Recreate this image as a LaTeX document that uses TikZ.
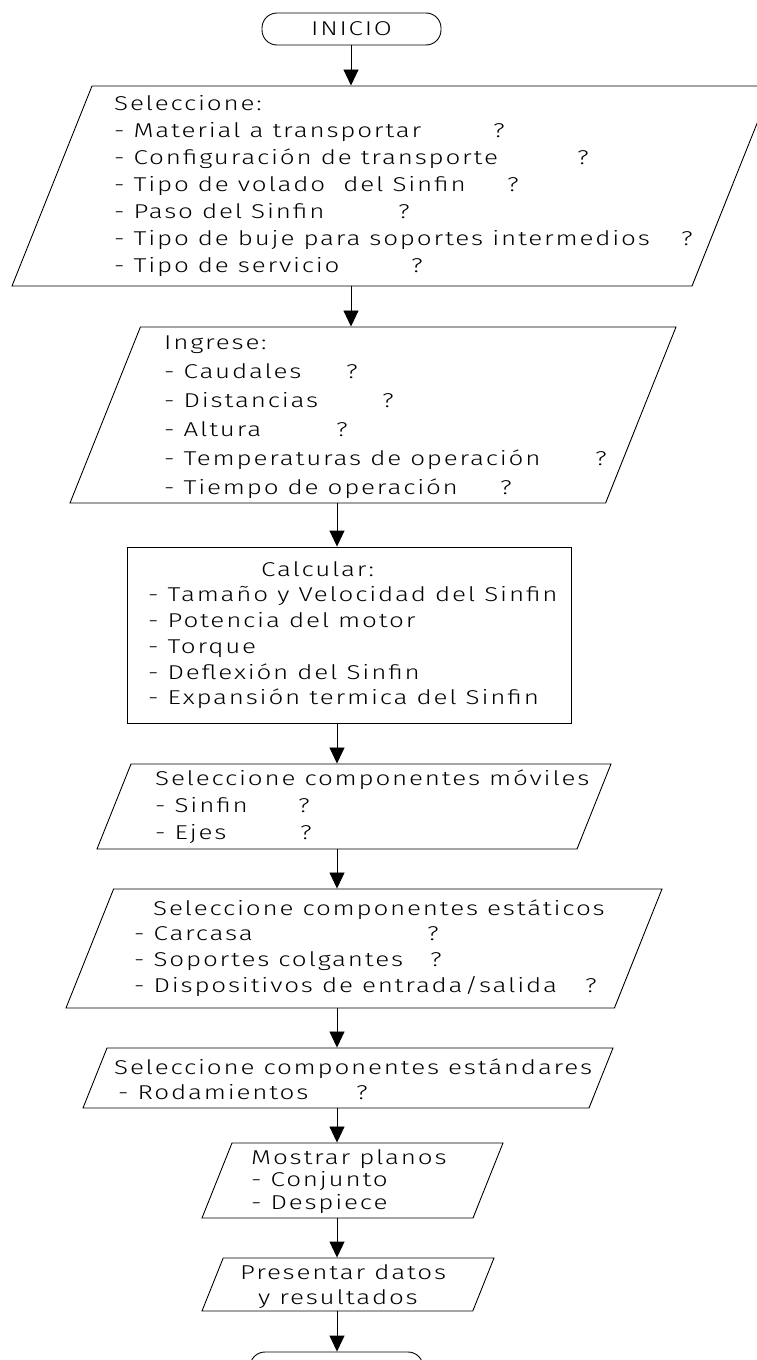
\documentclass[tikz,border=0pt]{standalone}
\usepackage{fontspec}
\usetikzlibrary{arrows.meta,shapes.geometric}
\newfontfamily\cadfont{Fira Sans Light}[FakeStretch=1.3,LetterSpace=9]
\newcommand\lns[2]{\vtop{\baselineskip=#1pt\lineskiplimit=-100pt\lineskip=0pt #2}}
\newcommand\qline[2]{\hbox{\makebox[#1pt][l]{#2}?}}
\newcommand\txline[1]{\hbox{#1}}
\newcommand\boxht[1]{\rule{0pt}{#1pt}}
\tikzset{
  box/.style={draw, line width=0.9pt, inner sep=0pt},
  para/.style={box, trapezium, trapezium left angle=68.2, trapezium right angle=111.8, trapezium stretches body},
  term/.style={box, rounded corners=15pt, font=\cadfont\fontsize{20}{20}\selectfont},
  txt/.style={anchor=base west, inner sep=0pt, font=\cadfont\fontsize{20}{20}\selectfont},
  arr/.style={line width=0.9pt, -{Triangle[length=16pt,width=15pt]}},
}
\begin{document}
\begin{tikzpicture}[x=1pt,y=-1pt]
\useasboundingbox (0,0) rectangle (757,1360);
\clip (0,0) rectangle (757,1360);
\coordinate (ax1) at (351,0);
\coordinate (ax2) at (337,0);
% shapes
\node[term, minimum width=179pt, minimum height=32pt] (ini) at (351.5,29) {INICIO};
\node[para, minimum width=760pt] (b1) at (392,186) {\boxht{200}};
\node[para, minimum width=606pt] (b2) at (373,415) {\boxht{176}};
\node[box, minimum width=444pt, minimum height=176pt] (b3) at (349,635) {};
\node[para, minimum width=514pt] (b4) at (354,806.5) {\boxht{85}};
\node[para, minimum width=596pt] (b5) at (364,948.5) {\boxht{119}};
\node[para, minimum width=530pt] (b6) at (348,1078) {\boxht{60}};
\node[para, minimum width=301pt] (b7) at (352.5,1180.5) {\boxht{75}};
\node[para, minimum width=292pt] (b8) at (348,1284.5) {\boxht{53}};
\node[term, minimum width=173pt, minimum height=32pt] (fin) at (336.5,1368) {FIN};
% texts
\node[txt] (t1) at (114,110) {\lns{27}{%
  \txline{Seleccione:}%
  \qline{379}{- Material a transportar}%
  \qline{463}{- Configuración de transporte}%
  \qline{393}{- Tipo de volado\ \ del Sinfin}%
  \qline{284}{- Paso del Sinfin}%
  \qline{567}{- Tipo de buje para soportes intermedios}%
  \qline{297}{- Tipo de servicio}}};
\node[txt] (t2) at (164,349) {\lns{29}{%
  \txline{Ingrese:}%
  \qline{182}{- Caudales}%
  \qline{218}{- Distancias}%
  \qline{172}{- Altura}%
  \qline{431}{- Temperaturas de operación}%
  \qline{336}{- Tiempo de operación}}};
\node[txt] (t3) at (148,576) {\lns{25.75}{%
  \txline{\kern113pt Calcular:}%
  \txline{- Tamaño y Velocidad del Sinfin}%
  \txline{- Potencia del motor}%
  \txline{- Torque}%
  \txline{- Deflexión del Sinfin}%
  \txline{- Expansión termica del Sinfin}}};
\node[txt] (t4) at (155,785) {\lns{27}{%
  \txline{Seleccione componentes móviles}%
  \qline{143}{- Sinfin}%
  \qline{145}{- Ejes}}};
\node[txt] (t5) at (134,915) {\lns{25.7}{%
  \txline{\kern19pt Seleccione componentes estáticos}%
  \qline{293}{- Carcasa}%
  \qline{296}{- Soportes colgantes}%
  \qline{451}{- Dispositivos de entrada/salida}}};
\node[txt] (t6) at (114,1074) {\lns{25}{%
  \txline{Seleccione componentes estándares}%
  \txline{\kern4pt\makebox[238pt][l]{- Rodamientos}?}}};
\node[txt] (t7) at (251,1164) {\lns{22.5}{%
  \txline{Mostrar planos}%
  \txline{- Conjunto}%
  \txline{- Despiece}}};
\node[txt] (t8) at (240,1279) {\lns{25}{%
  \txline{Presentar datos}%
  \txline{\kern18pt y resultados}}};
% connectors
\draw[arr] (ini.south -| ax1) -- (b1.north -| ax1);
\draw[arr] (b1.south -| ax1) -- (b2.north -| ax1);
\draw[arr] (b2.south -| ax2) -- (b3.north -| ax2);
\draw[arr] (b3.south -| ax2) -- (b4.north -| ax2);
\draw[arr] (b4.south -| ax2) -- (b5.north -| ax2);
\draw[arr] (b5.south -| ax2) -- (b6.north -| ax2);
\draw[arr] (b6.south -| ax2) -- (b7.north -| ax2);
\draw[arr] (b7.south -| ax2) -- (b8.north -| ax2);
\draw[arr] (b8.south -| ax2) -- (fin.north -| ax2);
\end{tikzpicture}
\end{document}
